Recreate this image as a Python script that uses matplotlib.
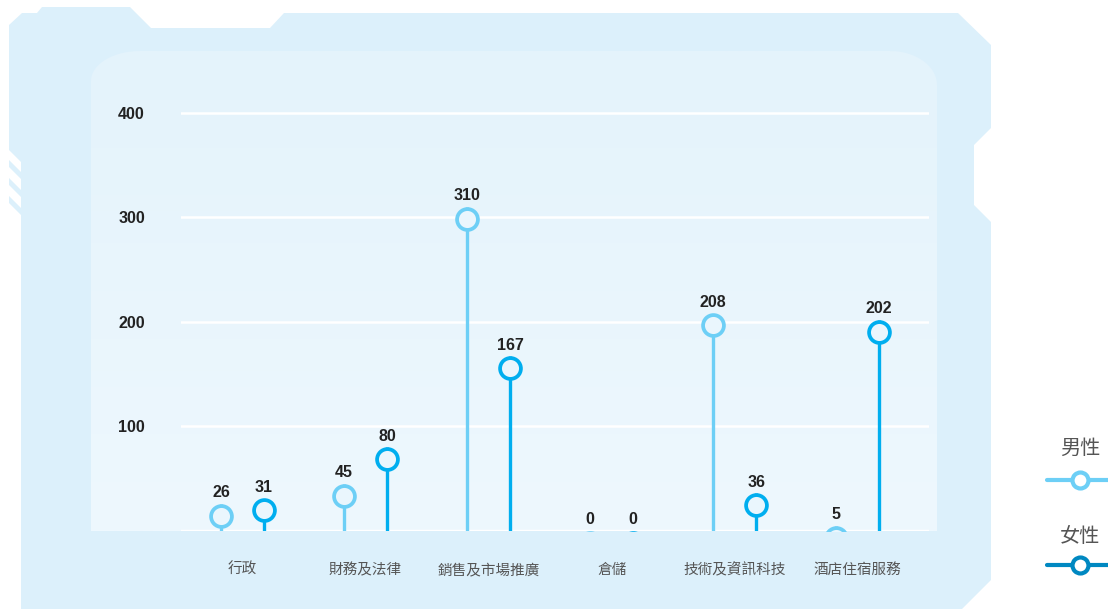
import numpy as np
import matplotlib
matplotlib.use('Agg')
import matplotlib.pyplot as plt
from matplotlib.patches import Polygon, PathPatch
from matplotlib.path import Path
from matplotlib.transforms import ScaledTranslation

plt.rcParams['font.family'] = ['Liberation Sans', 'Noto Sans CJK TC', 'DejaVu Sans']

# data
categories = ['行政', '財務及法律', '銷售及市場推廣', '倉儲', '技術及資訊科技', '酒店住宿服務']
male = [26, 45, 310, 0, 208, 5]
female = [31, 80, 167, 0, 36, 202]
series_names = ['男性', '女性']
yticks = [100, 200, 300, 400]

c_male = '#6dcff6'
c_female = '#00aeef'
c_female_leg = '#0088c1'
c_outer = '#dcf0fb'

fig = plt.figure(figsize=(11.08, 6.09), dpi=100)

# background decoration (pixel coords)
bg = fig.add_axes([0, 0, 1, 1])
bg.set_xlim(0, 1108)
bg.set_ylim(609, 0)
bg.axis('off')

outer = [(9, 25), (22, 13), (37, 13), (42, 7), (130, 7), (151, 28), (270, 28),
         (284, 13), (958, 13), (991, 45), (991, 128), (974, 145), (974, 205),
         (991, 222), (991, 580), (962, 609), (21, 609), (21, 162), (9, 150)]
bg.add_patch(Polygon(outer, closed=True, fc=c_outer, ec='none'))
for y0 in [160, 178, 196]:
    bg.add_patch(Polygon([(9, y0), (21, y0 + 12), (21, y0 + 19), (9, y0 + 7)],
                         closed=True, fc=c_outer, ec='none'))

# inner panel with rounded top corners
t = np.linspace(0, np.pi / 2, 30)
left_arc = [(91 + 49 * (1 - np.cos(a)), 51 + 30 * (1 - np.sin(a))) for a in t]
right_arc = [(937 - 47 * (1 - np.sin(a)), 51 + 34 * (1 - np.cos(a))) for a in t]
pts = [(91, 531)] + left_arc + right_arc + [(937, 531), (91, 531)]
pp = PathPatch(Path(pts), fc='none', ec='none')
bg.add_patch(pp)
grad = np.linspace(0, 1, 256).reshape(-1, 1)
top = np.array([228, 243, 251]) / 255
bot = np.array([238, 248, 254]) / 255
img = top + (bot - top) * grad[:, :, None]
im = bg.imshow(img, extent=[91, 937, 531, 51], aspect='auto', zorder=1)
im.set_clip_path(pp)
bg.set_xlim(0, 1108)
bg.set_ylim(609, 0)

# main chart
ax = fig.add_axes([181 / 1108, (609 - 531) / 609, (929 - 181) / 1108, (531 - 92) / 609])
ax.patch.set_alpha(0)
x = np.arange(len(categories))
off = 0.175
ax.set_xlim(-0.5, 5.58)
ax.set_ylim(0, 420)

ax.set_yticks(yticks)
ax.set_yticklabels([str(v) for v in yticks], fontweight='bold', fontsize=11.5, color='#222222')
ax.set_xticks(x)
ax.set_xticklabels(categories, fontsize=10.5, color='#555555', family=['Noto Sans CJK TC'])
ax.tick_params(axis='y', length=0, pad=26)
ax.tick_params(axis='x', length=0, pad=23)
for s in ax.spines.values():
    s.set_visible(False)
ax.yaxis.grid(True, color='white', lw=1.8, zorder=0)
ax.set_axisbelow(True)
ax.axhline(0, color='white', lw=2.5, zorder=1)

# circle top sits on the value, so shift the marker down by its radius
shift = ax.transData + ScaledTranslation(0, -0.118, fig.dpi_scale_trans)
for vals, xs, col in [(male, x - off, c_male), (female, x + off, c_female)]:
    ax.vlines(xs, 0, vals, color=col, lw=2.4, zorder=2)
    ax.plot(xs, vals, 'o', ms=15, mew=2.7, mfc='#eaf6fd', mec=col, transform=shift, zorder=3)
    for xi, v in zip(xs, vals):
        ax.annotate(str(v), (xi, v), xytext=(0, 8), textcoords='offset points',
                    ha='center', va='center', fontweight='bold', fontsize=11.5,
                    color='#222222', annotation_clip=False)

# legend on the right
for name, col, ty, ly in [(series_names[0], c_male, 448, 480), (series_names[1], c_female_leg, 537, 565)]:
    bg.text(1080, ty, name, ha='center', va='center', fontsize=14.5, color='#555555',
            family=['Noto Sans CJK TC'], fontweight='light')
    bg.plot([1047, 1120], [ly, ly], color=col, lw=3, solid_capstyle='round', clip_on=False)
    bg.plot([1080], [ly], 'o', ms=11.5, mew=3, mfc='white', mec=col, clip_on=False)

fig.savefig('out.png', dpi=100)
